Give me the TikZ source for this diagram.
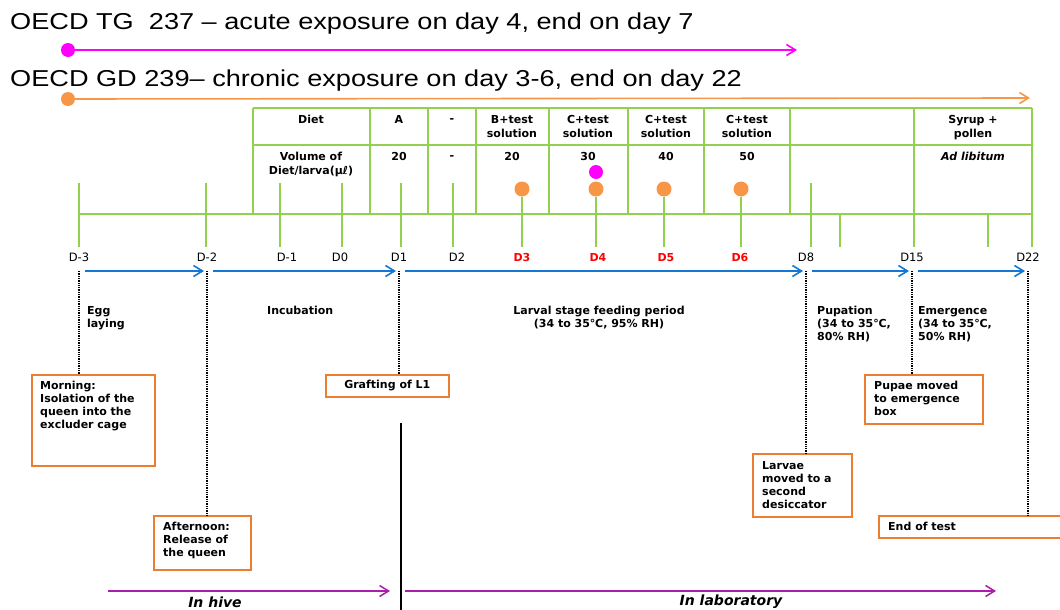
\documentclass[tikz,border=0pt]{standalone}
\usepackage{fontspec}
\setmainfont{DejaVu Sans}
\newfontfamily\titlefont{Liberation Sans}[FakeStretch=1.18]
\usetikzlibrary{arrows.meta}

\definecolor{acutemag}{RGB}{255,0,255}
\definecolor{chronicorg}{RGB}{247,150,70}
\definecolor{tblgreen}{RGB}{146,208,80}
\definecolor{periodblue}{RGB}{20,120,210}
\definecolor{boxorg}{RGB}{237,125,49}
\definecolor{placepurple}{RGB}{170,30,170}

\begin{document}
\begin{tikzpicture}[x=1pt,y=-1pt,
    >={Straight Barb[length=9pt,width=11pt]},
    title/.style={font=\titlefont\fontsize{23}{25}\selectfont,anchor=west,inner sep=0pt},
    dot/.style={circle,inner sep=0pt,minimum size=14pt},
    grid/.style={tblgreen,line width=1.8pt},
    cell/.style={font=\bfseries\fontsize{11}{14}\selectfont,align=center,anchor=north,inner sep=0pt},
    day/.style={font=\fontsize{11.5}{12}\selectfont,inner sep=0pt,anchor=base},
    hot/.style={day,font=\bfseries\fontsize{11}{12}\selectfont,text=red},
    period/.style={->,periodblue,line width=1.6pt,shorten <=6pt,shorten >=3pt},
    stage/.style={font=\bfseries\fontsize{11}{13}\selectfont,align=left,anchor=north west,inner sep=0pt},
    event/.style={draw=boxorg,line width=1.6pt,anchor=north west,inner sep=0pt},
    guide/.style={densely dotted,line width=1.3pt},
    place/.style={->,placepurple,line width=1.5pt},
    placelabel/.style={font=\bfseries\itshape\fontsize{14}{16}\selectfont,inner sep=0pt}
  ]
  \useasboundingbox (0,0) rectangle (1060,610);
  \clip (0,0) rectangle (1060,610);

  % exposure schemes
  \node[title] (tg) at (10,24) {OECD TG~\ 237 – acute exposure on day 4, end on day 7};
  \node[dot,fill=acutemag] (acute) at (68,50) {};
  \coordinate (acuteEnd) at (797,50);
  \draw[->,acutemag,line width=1.6pt] (acute) -- (acuteEnd);
  \node[title] (gd) at (10,81) {OECD GD 239– chronic exposure on day 3-6, end on day 22};
  \node[dot,fill=chronicorg] (chronic) at (68,99) {};
  \coordinate (chronicEnd) at (1030,98);
  \draw[->,chronicorg,line width=1.6pt] (chronic) -- (chronicEnd);

  % diet table
  \draw[grid] (253,108) -- (1032,108);
  \draw[grid] (253,145) -- (1032,145);
  \draw[grid] (79,214) -- (1032,214);
  \foreach \x in {253,370,428,476,549,628,704,790}
    \draw[grid] (\x,108) -- (\x,214);
  \foreach \x in {914,1032}
    \draw[grid] (\x,108) -- (\x,247);
  \foreach \x in {840,988}
    \draw[grid] (\x,214) -- (\x,247);
  \foreach \x in {79,206,280,342,401,453,811}
    \draw[grid] (\x,183) -- (\x,247);

  \node[cell] (dietH) at (311,115) {Diet};
  \node[cell] (dietA) at (399,115) {A};
  \node[cell,anchor=center] (dietN) at (452,121) {-};
  \node[cell] (dietB) at (512,115) {B+test\\solution};
  \node[cell] (dietC1) at (588,115) {C+test\\solution};
  \node[cell] (dietC2) at (666,115) {C+test\\solution};
  \node[cell] (dietC3) at (747,115) {C+test\\solution};
  \node[cell] (dietS) at (973,115) {Syrup +\\pollen};
  \node[cell] (volH) at (311,152) {Volume of\\Diet/larva(μℓ)};
  \node[cell] (volA) at (399,152) {20};
  \node[cell,anchor=center] (volN) at (452,158) {-};
  \node[cell] (volB) at (512,152) {20};
  \node[cell] (volC1) at (588,152) {30};
  \node[cell] (volC2) at (666,152) {40};
  \node[cell] (volC3) at (747,152) {50};
  \node[cell,font=\bfseries\itshape\fontsize{11}{14}\selectfont] (volS) at (973,152) {Ad libitum};

  % dosing days
  \node[dot,fill=acutemag] (dose) at (596,172) {};
  \foreach \n/\x in {3/522,4/596,5/664,6/741}{
    \node[dot,fill=chronicorg,minimum size=15pt] (f\n) at (\x,189) {};
    \draw[grid] (f\n) -- (\x,247);
  }

  % days
  \foreach \n/\x/\t in {m3/79/D-3,m2/207/D-2,m1/287/D-1,z0/340/D0,p1/399/D1,p2/457/D2,p8/806/D8,p15/912/D15,p22/1028/D22}
    \node[day] (d\n) at (\x,261) {\t};
  \foreach \n/\x/\t in {p3/522/D3,p4/598/D4,p5/666/D5,p6/740/D6}
    \node[hot] (d\n) at (\x,261) {\t};
  \foreach \n in {m3,m2,p1,p8,p15,p22}
    \coordinate (a\n) at ([yshift=-10pt]d\n.base);

  \draw[period] (am3) -- (am2);
  \draw[period] (am2) -- (ap1);
  \draw[period] (ap1) -- (ap8);
  \draw[period] (ap8) -- (ap15);
  \draw[period] (ap15) -- (ap22);

  % stages
  \node[stage] (egg) at (87,306) {Egg\\laying};
  \node[stage] (incub) at (267,306) {Incubation};
  \node[stage,anchor=north,align=center] (larval) at (599,306) {Larval stage feeding period\\(34 to 35℃, 95\% RH)};
  \node[stage] (pupation) at (817,306) {Pupation\\(34 to 35℃,\\80\% RH)};
  \node[stage] (emerg) at (918,306) {Emergence\\(34 to 35℃,\\50\% RH)};

  % events
  \node[event,minimum width=123pt,minimum height=91pt] (morning) at (31,374) {};
  \node[stage] at ([shift={(9pt,-7pt)}]morning.north west) {Morning:\\Isolation of the\\queen into the\\excluder cage};
  \node[event,minimum width=123pt,minimum height=22pt] (grafting) at (325,374) {};
  \node[stage,anchor=center] at (grafting.center) {Grafting of L1};
  \node[event,minimum width=97pt,minimum height=54pt] (afternoon) at (153,515) {};
  \node[stage] at ([shift={(10pt,-7pt)}]afternoon.north west) {Afternoon:\\Release of\\the queen};
  \node[event,minimum width=99pt,minimum height=63pt] (larvae) at (752,453) {};
  \node[stage] at ([shift={(10pt,-8pt)}]larvae.north west) {Larvae\\moved to a\\second\\desiccator};
  \node[event,minimum width=118pt,minimum height=49pt] (pupae) at (864,374) {};
  \node[stage] at ([shift={(10pt,-7pt)}]pupae.north west) {Pupae moved\\to emergence\\box};
  \node[event,minimum width=190pt,minimum height=22pt] (endtest) at (878,515) {};
  \node[stage,anchor=west] at ([xshift=10pt]endtest.west) {End of test};

  \draw[guide] (am3) -- (am3 |- morning.north);
  \draw[guide] (am2) -- (am2 |- afternoon.north);
  \draw[guide] (ap1) -- (ap1 |- grafting.north);
  \draw[guide] (ap8) -- (ap8 |- larvae.north);
  \draw[guide] (ap15) -- (ap15 |- pupae.north);
  \draw[guide] (ap22) -- (ap22 |- endtest.north);

  % hive / laboratory
  \coordinate (splitTop) at (401,423);
  \coordinate (splitBot) at (401,612);
  \draw[line width=1.6pt] (splitTop) -- (splitBot);
  \coordinate (hiveA) at (108,591);
  \coordinate (hiveB) at (390,591);
  \coordinate (labA) at (405,591);
  \coordinate (labB) at (996,591);
  \draw[place] (hiveA) -- (hiveB);
  \draw[place] (labA) -- (labB);
  \node[placelabel] (hive) at (215,602) {In hive};
  \node[placelabel] (lab) at (731,602) {In laboratory};
\end{tikzpicture}
\end{document}
